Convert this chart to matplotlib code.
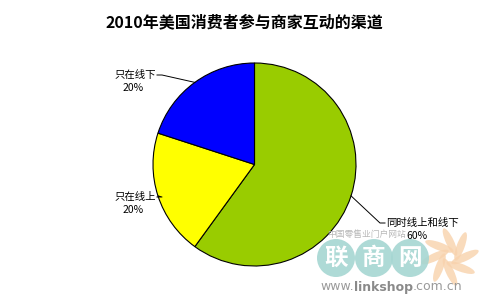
import numpy as np
import matplotlib
matplotlib.use("Agg")
import matplotlib.pyplot as plt
from matplotlib.patches import Circle, Ellipse

plt.rcParams['font.family'] = ['Noto Sans CJK SC', 'DejaVu Sans']

title = "2010年美国消费者参与商家互动的渠道"
channels = ["同时线上和线下", "只在线上", "只在线下"]
shares = [60, 20, 20]
colors = ["#99cc00", "#ffff00", "#0000ff"]

W, H = 488, 295
fig = plt.figure(figsize=(W / 100, H / 100), dpi=100)
ax = fig.add_axes([0, 0, 1, 1])

cx, cy, r = 254.5, 130.5, 101.5
wedges, _ = ax.pie(shares, colors=colors, startangle=90, counterclock=False,
                   center=(cx, cy), radius=r, frame=True,
                   wedgeprops=dict(edgecolor="black", linewidth=0.8))
ax.set_xlim(0, W)
ax.set_ylim(0, H)
ax.set_aspect("equal")
ax.axis("off")

# site watermark in the lower right corner (drawn under the labels)
pc = (450, 38)
for k in range(8):
    ang = k * 45
    a = np.deg2rad(ang)
    ax.add_patch(Ellipse((pc[0] + 15 * np.cos(a), pc[1] + 15 * np.sin(a)),
                         30, 8, angle=ang + 25, color="#f8d2ac", alpha=0.8, lw=0))
ax.text(367, 60, "中国零售业门户网站", ha="center", va="center",
        fontsize=6.3, color="#b8b8b8")
for x0, ch in zip([336, 374, 410], "联商网"):
    ax.add_patch(Circle((x0, 37), 19, color="#a5d6d2", alpha=0.9, lw=0))
    ax.text(x0, 37, ch, ha="center", va="center", fontsize=17,
            color="white", fontweight="bold")

renderer = fig.canvas.get_renderer()
x = 320
for part, weight, col in [("www.", "normal", "#9a9a9a"),
                          ("linkshop", "bold", "#8a8a8a"),
                          (".com.cn", "normal", "#9a9a9a")]:
    t = ax.text(x, 8, part, ha="left", va="center", fontsize=9,
                color=col, fontweight=weight, family="DejaVu Sans")
    bb = t.get_window_extent(renderer=renderer)
    x += bb.width

# label anchor points (end of leader line) and text side
label_pos = {
    "同时线上和线下": (380, 72, "left"),
    "只在线上": (162, 98, "right"),
    "只在线下": (162, 220, "right"),
}
for w, name, val in zip(wedges, channels, shares):
    mid = np.deg2rad((w.theta1 + w.theta2) / 2)
    ex, ey = cx + r * np.cos(mid), cy + r * np.sin(mid)
    lx, ly, side = label_pos[name]
    hx = lx + 5 if side == "left" else lx - 5
    ax.plot([ex, lx, hx], [ey, ly, ly], color="black", lw=0.7)
    tx = hx + 1 if side == "left" else hx - 1
    ax.text(tx, ly, name, ha=side, va="center", fontsize=7.5)
    ax.text((tx + 31) if side == "left" else (tx - 23), ly - 13, f"{val}%",
            ha="center", va="center", fontsize=7.5)

ax.text(W / 2, H - 22, title, ha="center", va="center",
        fontsize=11.5, fontweight="bold")

fig.savefig("out.png", dpi=100)
